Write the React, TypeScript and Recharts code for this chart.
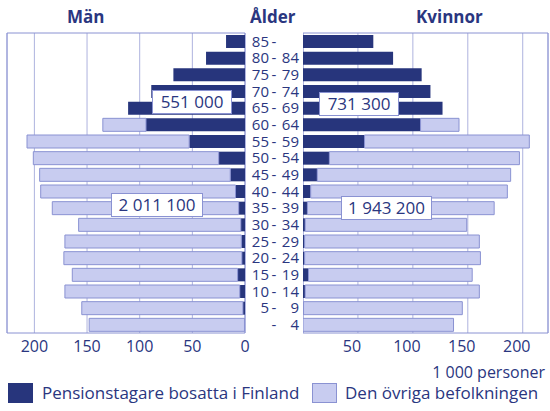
import React from 'react';
import { BarChart, Bar, XAxis, YAxis, CartesianGrid, ReferenceArea } from 'recharts';

// age groups, top to bottom
const ages = ['85 -', '80 - 84', '75 - 79', '70 - 74', '65 - 69', '60 - 64', '55 - 59', '50 - 54', '45 - 49',
    '40 - 44', '35 - 39', '30 - 34', '25 - 29', '20 - 24', '15 - 19', '10 - 14', '5 - 9', '- 4'];

// 1 000 persons
const menPensioners = [18, 37, 68, 89, 111, 94, 53, 25, 14, 9, 6, 4, 3.5, 3, 7, 5, 2, 0.5];
const menOthers = [0, 0, 0, 0, 0, 41, 154, 176, 181, 185, 177, 154, 167.5, 169, 157, 166, 153, 147.5];
const womenPensioners = [64, 82, 108, 116, 127, 107, 56, 24, 13, 7, 4, 2, 1.5, 1.5, 5, 2, 0.5, 0];
const womenOthers = [0, 0, 0, 0, 0, 35, 150, 173, 176, 179, 170, 147, 159, 160, 149, 158.5, 144.5, 137];

const xTicks = [0, 50, 100, 150, 200];

const menData = ages.map((age, i) => ({ age, pension: menPensioners[i], other: menOthers[i] }));
const womenData = ages.map((age, i) => ({ age, pension: womenPensioners[i], other: womenOthers[i] }));

const NAVY = '#27357c';
const LIGHT = '#c8ccf0';
const EDGE = '#8a92d2';
const GRID = '#aeb3de';
const TEXT = '#2a3680';
const FONT = '"Open Sans", sans-serif';

// "80 - 84": first number right-aligned, dash centred, second number right-aligned
const AgeTick = ({ x, y, payload }: any) => {
    const parts = String(payload.value).split('-');
    const a = parts[0].trim();
    const b = parts[1].trim();
    return (
        <text y={y} dy="0.35em" fill={TEXT} fontSize={15} fontFamily={FONT}>
            {a && <tspan x={x + 24} textAnchor="end">{a}</tspan>}
            <tspan x={x + 29} textAnchor="middle">-</tspan>
            {b && <tspan x={x + 54} textAnchor="end">{b}</tspan>}
        </text>
    );
};

const boxStyle = (left: number, top: number, width: number): React.CSSProperties => ({
    position: 'absolute', left, top, width, height: 24, background: '#fff', border: `1px solid ${EDGE}`,
    boxSizing: 'border-box', textAlign: 'center', fontSize: 17, lineHeight: '22px', color: TEXT,
});

const tickStyle = { fill: TEXT, fontSize: 16, fontFamily: FONT };

export default function App() {
    return (
        <div style={{ position: 'relative', width: 550, height: 411, background: '#fff', fontFamily: FONT, color: TEXT }}>
            <style>{'body{margin:0}'}</style>
            <div style={{ position: 'absolute', left: 67, top: 7, fontWeight: 700, fontSize: 17, lineHeight: '20px' }}>Män</div>
            <div style={{ position: 'absolute', left: 250, top: 7, fontWeight: 700, fontSize: 17, lineHeight: '20px' }}>Ålder</div>
            <div style={{ position: 'absolute', left: 416, top: 7, fontWeight: 700, fontSize: 17, lineHeight: '20px' }}>Kvinnor</div>

            <div style={{ position: 'absolute', left: 0, top: 0 }}>
                <BarChart width={303} height={365} data={menData} layout="vertical" barSize={13}
                    margin={{ top: 33, right: 0, bottom: 0, left: 7 }}>
                    <CartesianGrid horizontal={false} stroke={GRID} />
                    <XAxis type="number" domain={[0, 226]} reversed ticks={xTicks} height={32}
                        axisLine={false} tickLine={false} tick={tickStyle} allowDataOverflow />
                    <YAxis type="category" dataKey="age" orientation="right" width={58}
                        axisLine={false} tickLine={false} tickSize={0} tickMargin={0} tick={<AgeTick />} interval={0} />
                    <ReferenceArea x1={0} x2={226} fill="none" stroke={EDGE} />
                    <Bar dataKey="pension" stackId="a" fill={NAVY} isAnimationActive={false} />
                    <Bar dataKey="other" stackId="a" fill={LIGHT} stroke={EDGE} isAnimationActive={false} />
                </BarChart>
            </div>

            <div style={{ position: 'absolute', left: 303, top: 0 }}>
                <BarChart width={247} height={365} data={womenData} layout="vertical" barSize={13}
                    margin={{ top: 33, right: 2, bottom: 0, left: 0 }}>
                    <CartesianGrid horizontal={false} stroke={GRID} />
                    <XAxis type="number" domain={[0, 223]} ticks={xTicks} height={32}
                        axisLine={false} tickLine={false} tick={{ ...tickStyle, dx: -6 }} allowDataOverflow />
                    <YAxis type="category" dataKey="age" hide />
                    <ReferenceArea x1={0} x2={223} fill="none" stroke={EDGE} />
                    <Bar dataKey="pension" stackId="a" fill={NAVY} isAnimationActive={false} />
                    <Bar dataKey="other" stackId="a" fill={LIGHT} stroke={EDGE} isAnimationActive={false} />
                </BarChart>
            </div>

            <div style={boxStyle(152, 90, 80)}>551 000</div>
            <div style={boxStyle(319, 92, 80)}>731 300</div>
            <div style={boxStyle(111, 193, 92)}>2 011 100</div>
            <div style={boxStyle(341, 196, 91)}>1 943 200</div>

            <div style={{ position: 'absolute', right: 5, top: 363, fontSize: 16, lineHeight: '18px' }}>1 000 personer</div>

            <div style={{ position: 'absolute', left: 8, top: 383, width: 25, height: 20, background: NAVY }} />
            <div style={{ position: 'absolute', left: 42, top: 383, fontSize: 17, lineHeight: '20px' }}>Pensionstagare bosatta i Finland</div>
            <div style={{ position: 'absolute', left: 312, top: 383, width: 25, height: 20, background: LIGHT, border: `1px solid ${EDGE}`, boxSizing: 'border-box' }} />
            <div style={{ position: 'absolute', left: 345, top: 383, fontSize: 17, lineHeight: '20px' }}>Den övriga befolkningen</div>
        </div>
    );
}
